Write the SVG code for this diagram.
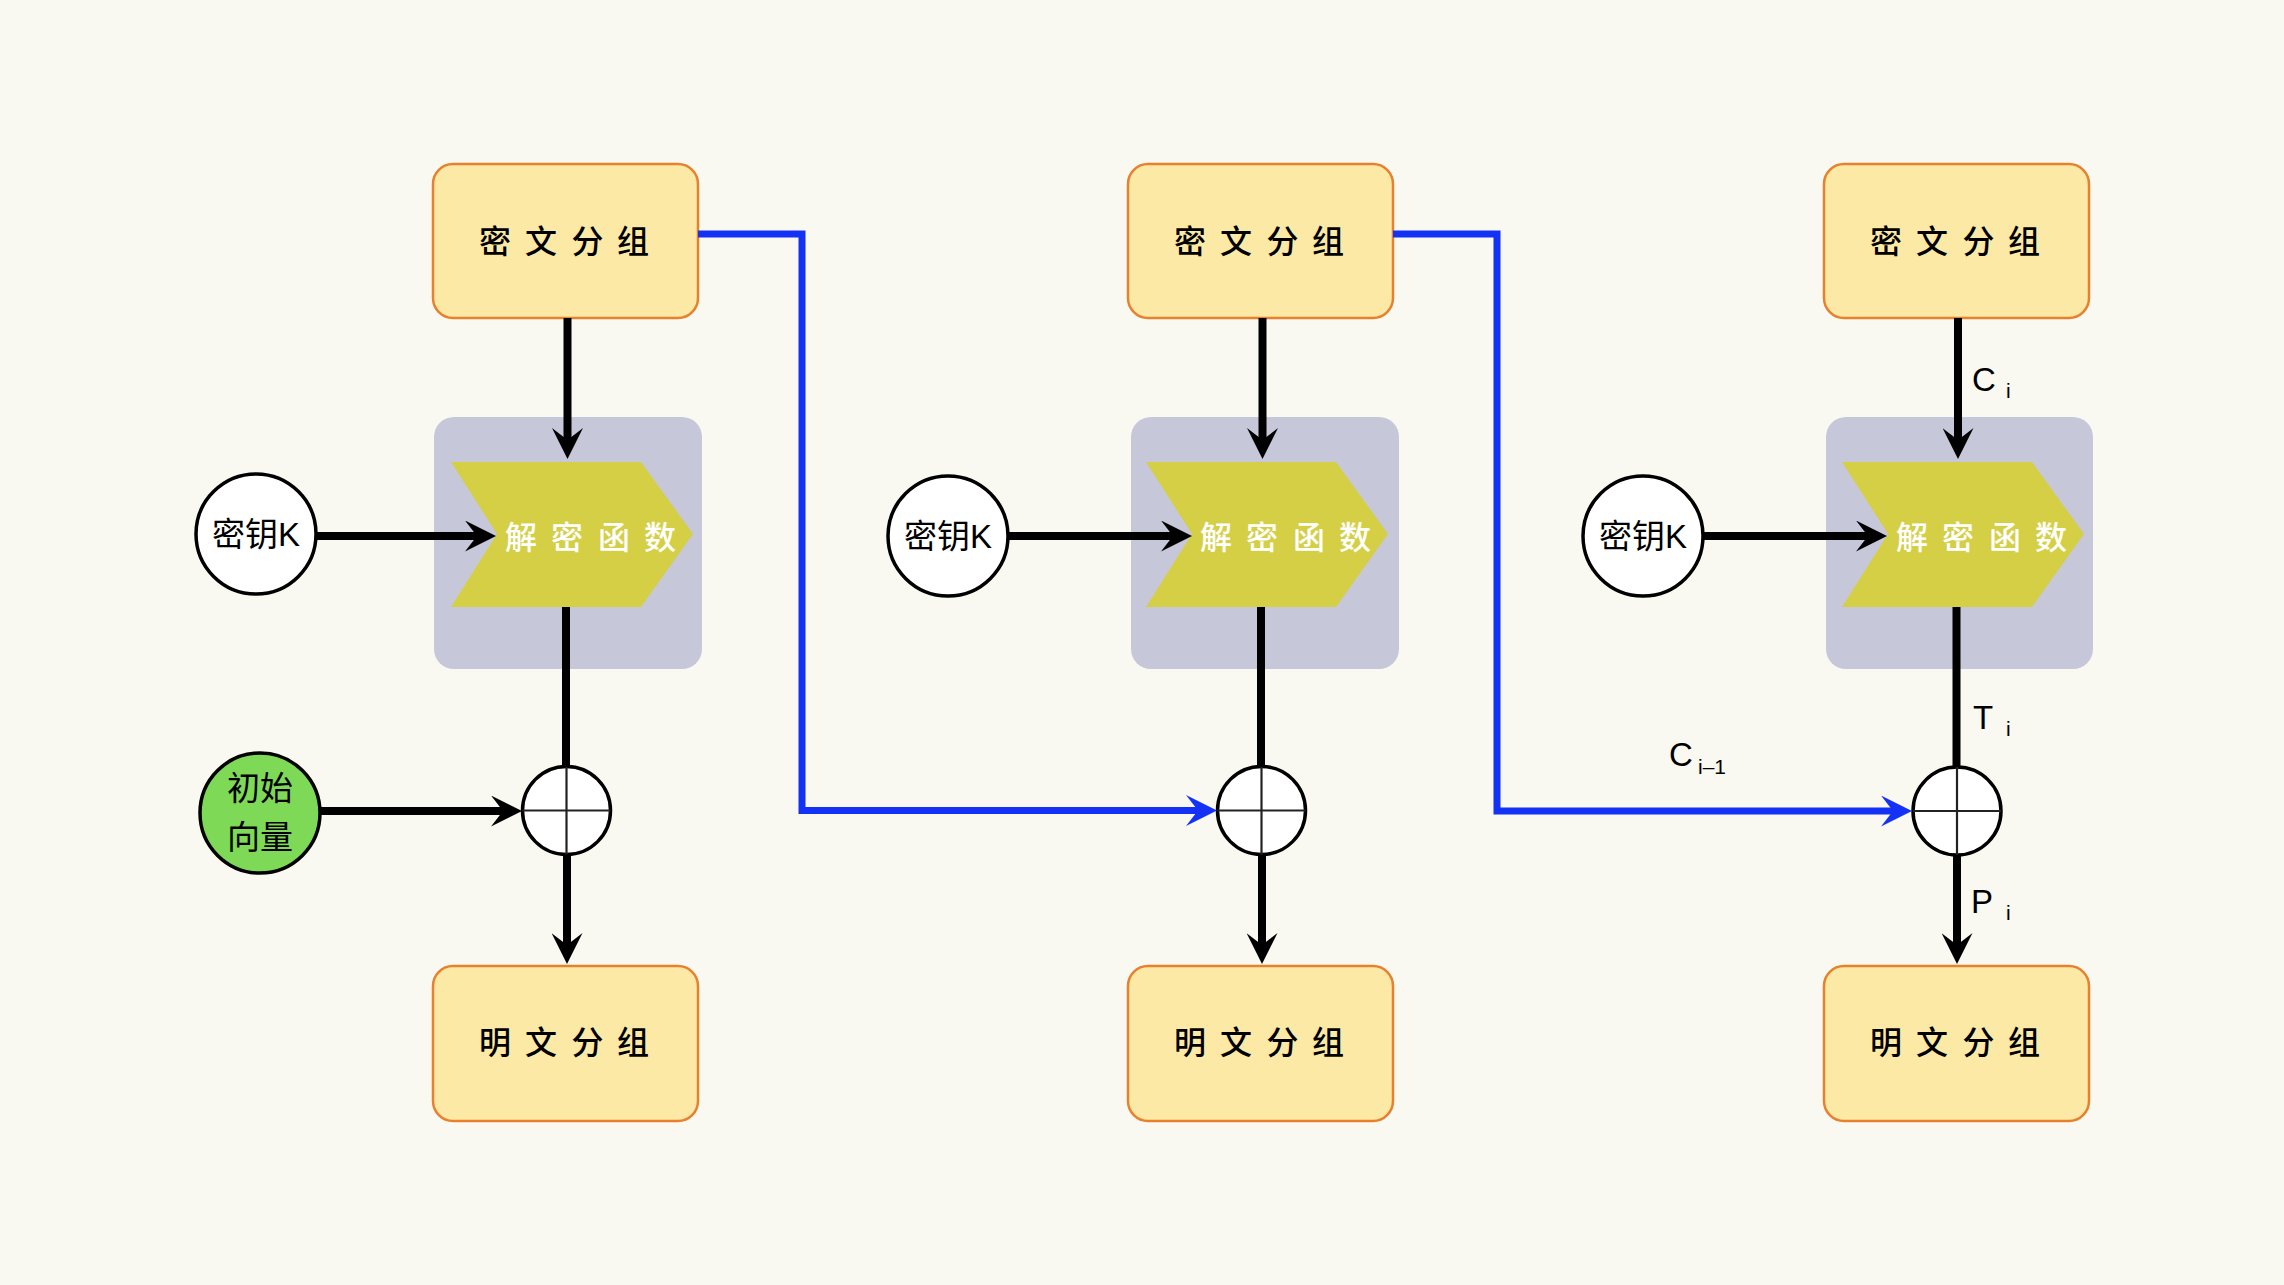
<svg xmlns="http://www.w3.org/2000/svg" width="2284" height="1285" viewBox="0 0 2284 1285">
<defs>
<style>
.bg{fill:#F9F9F1}
.box{fill:#FCE9A6;stroke:#E8802E;stroke-width:2.5}
.gray{fill:#C6C7D9}
.chev{fill:#D5CF46}
.circ{stroke:#000;stroke-width:3.5}
.xor{fill:#fff;stroke:#000;stroke-width:3.5}
.cross{stroke:#222;stroke-width:2.2}
.cjk{font-family:"Noto Sans CJK SC","Liberation Sans",sans-serif;font-size:32px;font-weight:500;fill:#000}
.wt{fill:#fff;font-size:32px;font-weight:500}
.iv{font-family:"Noto Sans CJK SC","Liberation Sans",sans-serif;font-size:33px;font-weight:400;fill:#000}
.key{font-family:"Liberation Sans","Noto Sans CJK SC",sans-serif;font-size:33px;fill:#000}
.lbl{font-family:"Liberation Sans",Arial,sans-serif;font-size:33px;fill:#000}
.sub{font-size:21px}
.blk{fill:none;stroke:#000;stroke-width:8}
.blu{fill:none;stroke:#1432F5;stroke-width:7;stroke-linejoin:miter}
</style>
<marker id="ah" markerUnits="userSpaceOnUse" markerWidth="31" markerHeight="31" viewBox="0 0 31 31" refX="12" refY="15.5" orient="auto"><path d="M0,0 L31,15.5 L0,31 L12,15.5 Z" fill="#000"/></marker>
<marker id="ahb" markerUnits="userSpaceOnUse" markerWidth="31" markerHeight="31" viewBox="0 0 31 31" refX="12" refY="15.5" orient="auto"><path d="M0,0 L31,15.5 L0,31 L12,15.5 Z" fill="#1432F5"/></marker>
</defs>
<rect class="bg" x="0" y="0" width="2284" height="1285"/>

<!-- Column 1 -->
<g id="cipher1"><rect class="box" x="433" y="164" width="265" height="154" rx="20"/><text class="cjk" x="479 525 571.5 617" y="253">密文分组</text></g>
<g id="decrypt1"><rect class="gray" x="434" y="417" width="268" height="252" rx="20"/><polygon class="chev" points="451,462 641,462 693,534 641,607 451,607 497,534"/><text class="cjk wt" x="505 551 598 644" y="549">解密函数</text></g>
<g id="key1"><circle class="circ" cx="256" cy="534" r="60" fill="#fff"/><text class="key" x="256" y="546" text-anchor="middle">密钥K</text></g>
<g id="iv"><circle class="circ" cx="260" cy="813" r="60" fill="#7ED957"/><text class="iv" x="260" y="800" text-anchor="middle">初始</text><text class="iv" x="260" y="849" text-anchor="middle">向量</text></g>
<g id="xor1"><circle class="xor" cx="566.5" cy="810.5" r="44"/><line class="cross" x1="566.5" y1="766.5" x2="566.5" y2="854.5"/><line class="cross" x1="522.5" y1="810.5" x2="610.5" y2="810.5"/></g>
<g id="plain1"><rect class="box" x="433" y="966" width="265" height="155" rx="20"/><text class="cjk" x="479 525 571.5 617" y="1054">明文分组</text></g>

<!-- Column 2 -->
<g id="cipher2"><rect class="box" x="1128" y="164" width="265" height="154" rx="20"/><text class="cjk" x="1174 1220 1266.5 1312" y="253">密文分组</text></g>
<g id="decrypt2"><rect class="gray" x="1131" y="417" width="268" height="252" rx="20"/><polygon class="chev" points="1146,462 1336,462 1388,534 1336,607 1146,607 1192,534"/><text class="cjk wt" x="1200 1246 1293 1339" y="549">解密函数</text></g>
<g id="key2"><circle class="circ" cx="948" cy="536" r="60" fill="#fff"/><text class="key" x="948" y="548" text-anchor="middle">密钥K</text></g>
<g id="xor2"><circle class="xor" cx="1261.5" cy="810.5" r="44"/><line class="cross" x1="1261.5" y1="766.5" x2="1261.5" y2="854.5"/><line class="cross" x1="1217.5" y1="810.5" x2="1305.5" y2="810.5"/></g>
<g id="plain2"><rect class="box" x="1128" y="966" width="265" height="155" rx="20"/><text class="cjk" x="1174 1220 1266.5 1312" y="1054">明文分组</text></g>

<!-- Column 3 -->
<g id="cipher3"><rect class="box" x="1824" y="164" width="265" height="154" rx="20"/><text class="cjk" x="1870 1916 1962.5 2008" y="253">密文分组</text></g>
<g id="decrypt3"><rect class="gray" x="1826" y="417" width="267" height="252" rx="20"/><polygon class="chev" points="1842,462 2032,462 2084,534 2032,607 1842,607 1888,534"/><text class="cjk wt" x="1896 1942 1989 2035" y="549">解密函数</text></g>
<g id="key3"><circle class="circ" cx="1643" cy="536" r="60" fill="#fff"/><text class="key" x="1643" y="548" text-anchor="middle">密钥K</text></g>
<g id="xor3"><circle class="xor" cx="1957" cy="811" r="44"/><line class="cross" x1="1957" y1="767" x2="1957" y2="855"/><line class="cross" x1="1913" y1="811" x2="2001" y2="811"/></g>
<g id="plain3"><rect class="box" x="1824" y="966" width="265" height="155" rx="20"/><text class="cjk" x="1870 1916 1962.5 2008" y="1054">明文分组</text></g>

<!-- Connectors -->
<g id="connectors">
<path class="blk" d="M567.5,318 V440" marker-end="url(#ah)"/>
<path class="blk" d="M316,536 H477" marker-end="url(#ah)"/>
<path class="blk" d="M566,607 V767"/>
<path class="blk" d="M320,811 H503" marker-end="url(#ah)"/>
<path class="blk" d="M567,855 V945" marker-end="url(#ah)"/>

<path class="blk" d="M1262.5,318 V440" marker-end="url(#ah)"/>
<path class="blk" d="M1008,536 H1173" marker-end="url(#ah)"/>
<path class="blk" d="M1261,607 V767"/>
<path class="blk" d="M1262,855 V945" marker-end="url(#ah)"/>

<path class="blk" d="M1958,318 V440" marker-end="url(#ah)"/>
<path class="blk" d="M1703,536 H1868" marker-end="url(#ah)"/>
<path class="blk" d="M1956.5,607 V767"/>
<path class="blk" d="M1957,855 V945" marker-end="url(#ah)"/>

<path class="blu" d="M698,234 H802 V810.5 H1198" marker-end="url(#ahb)"/>
<path class="blu" d="M1393,234 H1497 V811 H1893" marker-end="url(#ahb)"/>
</g>

<g id="labels">
<text class="lbl"><tspan x="1972" y="391">C</tspan><tspan class="sub" x="2006" y="398">i</tspan></text>
<text class="lbl"><tspan x="1973" y="729">T</tspan><tspan class="sub" x="2006" y="736">i</tspan></text>
<text class="lbl"><tspan x="1971" y="913">P</tspan><tspan class="sub" x="2006" y="920">i</tspan></text>
<text class="lbl"><tspan x="1669" y="766">C</tspan><tspan class="sub" x="1698" y="774">i–1</tspan></text>
</g>
</svg>
